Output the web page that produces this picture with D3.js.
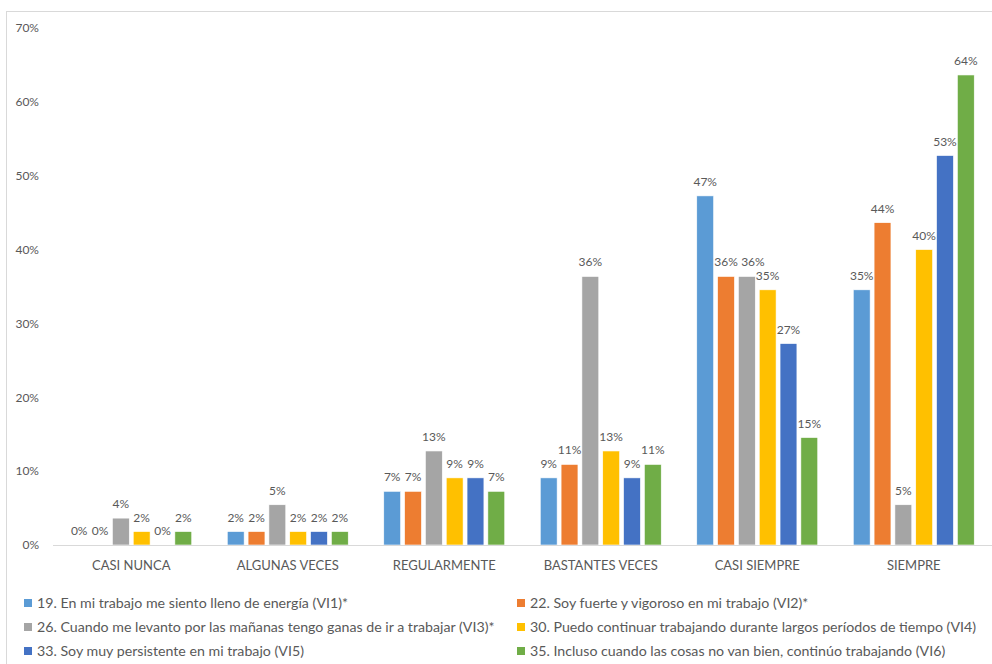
<!DOCTYPE html>
<html>
<head>
<meta charset="utf-8">
<script src="https://cdn.jsdelivr.net/npm/d3@7"></script>
<style>
	html, body { margin: 0; padding: 0; background: #fff; }
	svg { display: block; font-family: Lato, "Open Sans", sans-serif; }
</style>
</head>
<body>
<svg id="chart" width="992" height="664"></svg>
<script>
// Response frequencies (%) for the vigour items, n = 55
const categories = ['CASI NUNCA', 'ALGUNAS VECES', 'REGULARMENTE', 'BASTANTES VECES', 'CASI SIEMPRE', 'SIEMPRE'];
const seriesNames = [
	'19. En mi trabajo me siento lleno de energía (VI1)*',
	'22. Soy fuerte y vigoroso en mi trabajo (VI2)*',
	'26. Cuando me levanto por las mañanas tengo ganas de ir a trabajar (VI3)*',
	'30. Puedo continuar trabajando durante largos períodos de tiempo (VI4)',
	'33. Soy muy persistente en mi trabajo (VI5)',
	'35. Incluso cuando las cosas no van bien, continúo trabajando (VI6)'
];
const vi1 = [0, 1.82, 7.27, 9.09, 47.27, 34.55];
const vi2 = [0, 1.82, 7.27, 10.91, 36.36, 43.64];
const vi3 = [3.64, 5.45, 12.73, 36.36, 36.36, 5.45];
const vi4 = [1.82, 1.82, 9.09, 12.73, 34.55, 40.00];
const vi5 = [0, 1.82, 9.09, 9.09, 27.27, 52.73];
const vi6 = [1.82, 1.82, 7.27, 10.91, 14.55, 63.64];
const yTicks = [0, 10, 20, 30, 40, 50, 60, 70];
const colors = ['#5b9bd5', '#ed7d31', '#a5a5a5', '#ffc000', '#4472c4', '#70ad47'];

(function () {
	const svg = d3.select('#chart');
	const seriesValues = [vi1, vi2, vi3, vi4, vi5, vi6];
	const textColor = '#595959';

	// chart area frame (cut by the right and bottom edges of the picture)
	svg.append('rect')
		.attr('x', 6.5).attr('y', 11.5).attr('width', 1000).attr('height', 700)
		.attr('fill', 'none').attr('stroke', '#d9d9d9');

	const x0 = d3.scaleBand().domain(categories).range([53, 992])
		.paddingInner(0.227).paddingOuter(0.1135);
	const x1 = d3.scaleBand().domain(d3.range(seriesNames.length))
		.range([0, x0.bandwidth()]).paddingInner(0.19);
	const y = d3.scaleLinear().domain([0, 70]).range([545, 28]);

	// y axis labels only (no gridlines)
	svg.append('g')
		.attr('transform', 'translate(44,0)')
		.call(d3.axisLeft(y).tickValues(yTicks).tickFormat(d => d + '%').tickSize(0).tickPadding(5))
		.call(ax => ax.select('.domain').remove())
		.call(ax => ax.selectAll('text').attr('font-size', 12).attr('fill', textColor)
			.attr('font-family', 'Lato, sans-serif'));

	// bars
	const groups = svg.append('g').selectAll('g.cat').data(categories).join('g')
		.attr('class', 'cat')
		.attr('transform', c => 'translate(' + x0(c) + ',0)');

	groups.each(function (c, ci) {
		const g = d3.select(this);
		const rows = seriesValues.map((vals, si) => ({ si, v: vals[ci] }));
		g.selectAll('rect').data(rows).join('rect')
			.attr('x', d => x1(d.si))
			.attr('y', d => y(d.v))
			.attr('width', x1.bandwidth())
			.attr('height', d => y(0) - y(d.v))
			.attr('fill', d => colors[d.si])
			.attr('stroke', '#fff').attr('stroke-width', 0.6);
		const labels = g.selectAll('text').data(rows).join('text')
			.attr('x', d => x1(d.si) + x1.bandwidth() / 2)
			.attr('y', d => y(d.v) - 10)
			.attr('text-anchor', 'middle')
			.attr('font-size', 12).attr('fill', textColor)
			.text(d => d3.format('.0f')(d.v) + '%');

		// push a label right when it collides with its left neighbour (as Excel does)
		let prev = null;
		labels.each(function () {
			const b = this.getBBox();
			if (prev && Math.abs(prev.y - b.y) < 12 && b.x < prev.x + prev.width + 3) {
				const dx = prev.x + prev.width + 3 - b.x;
				d3.select(this).attr('x', +d3.select(this).attr('x') + dx);
				b.x += dx;
			}
			prev = b;
		});
	});

	// x axis
	svg.append('g')
		.attr('transform', 'translate(0,545)')
		.call(d3.axisBottom(x0).tickSize(0).tickPadding(16))
		.call(ax => ax.select('.domain').attr('stroke', '#d9d9d9').attr('d', 'M53,0.5H992'))
		.call(ax => ax.selectAll('text').attr('font-size', 13).attr('fill', textColor)
			.attr('font-family', 'Lato, sans-serif'));

	// legend, two columns
	const legend = svg.append('g').attr('font-size', 14.2);
	seriesNames.forEach((name, i) => {
		const col = i % 2, row = Math.floor(i / 2);
		const item = legend.append('g')
			.attr('transform', 'translate(' + (col ? 517 : 24) + ',' + (603 + row * 24) + ')');
		item.append('rect').attr('x', 0).attr('y', -4).attr('width', 8).attr('height', 8)
			.attr('fill', colors[i]);
		item.append('text').attr('x', 13).attr('y', 5).attr('fill', textColor).text(name);
	});
})();
</script>
</body>
</html>
